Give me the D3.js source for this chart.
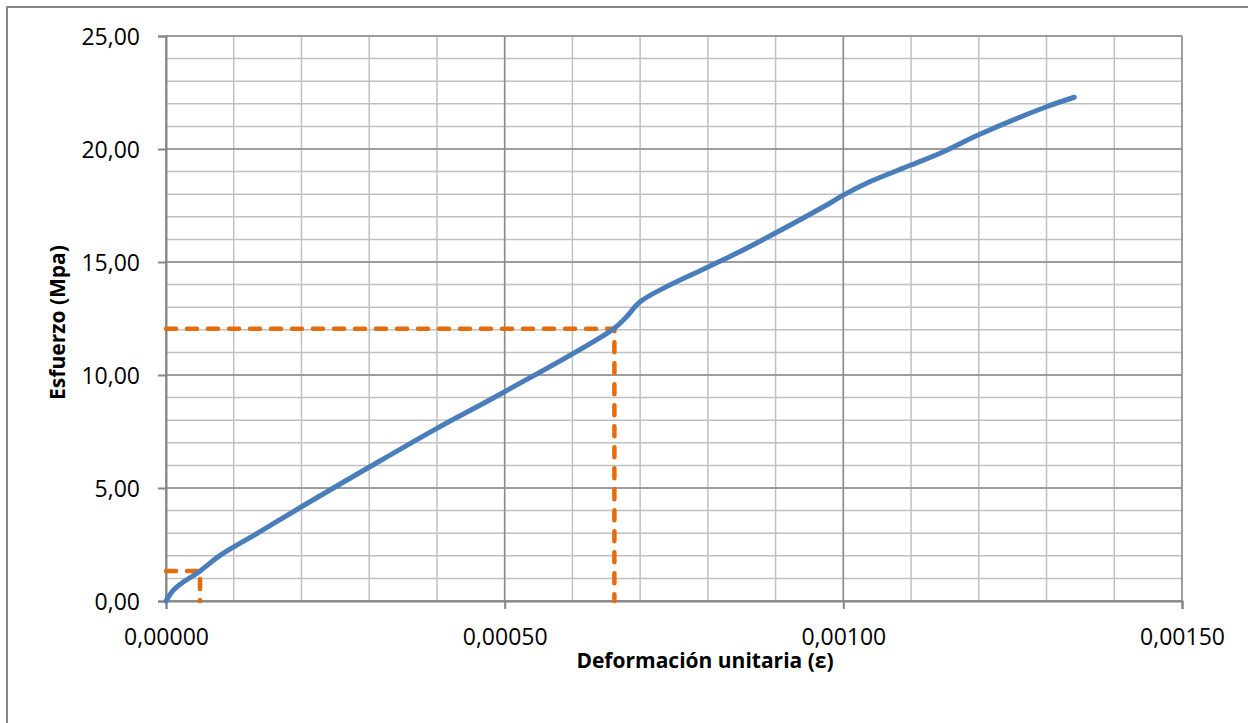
<!DOCTYPE html>
<html>
<head>
<meta charset="utf-8">
<script src="https://cdn.jsdelivr.net/npm/d3@7"></script>
<style>
  body { margin: 0; background: #fff; }
  svg { display: block; font-family: "Open Sans", sans-serif; }
</style>
</head>
<body>
<div id="chart"></div>
<script>
// strain / stress
const strain = [0, 0.00001, 0.00002, 0.00005, 0.00008, 0.000139, 0.0002, 0.000301, 0.0004, 0.0005,
                0.000661, 0.00068, 0.0007, 0.000739, 0.000801, 0.000852, 0.000899, 0.00098, 0.001, 0.001039,
                0.0011, 0.001148, 0.001199, 0.0013, 0.001341];
const stress = [0, 0.45, 0.72, 1.32, 2.02, 3.07, 4.17, 5.94, 7.64, 9.26,
                12.05, 12.58, 13.24, 13.91, 14.79, 15.53, 16.27, 17.60, 17.96, 18.55,
                19.29, 19.88, 20.62, 21.87, 22.29];

// dashed guide lines (two points on the curve)
const guideStrain = [0.0000502, 0.000662];
const guideStress = [1.33, 12.05];

const xTicks = [0, 0.0005, 0.001, 0.0015];
const yTicks = [0, 5, 10, 15, 20, 25];
const xMinor = d3.range(0, 16).map(i => i * 0.0001);
const yMinor = d3.range(0, 26);

const width = 1248;
const height = 723;
const margin = ({top: 36, right: 66, bottom: 122, left: 166});

const locale = d3.formatLocale({decimal: ",", thousands: ".", grouping: [3], currency: ["", "€"]});

const svg = d3.create('svg')
    .attr('width', width)
    .attr('height', height);

// outer chart border (runs off the picture to the right and bottom)
svg.append('rect')
    .attr('x', 7).attr('y', 7)
    .attr('width', 1400).attr('height', 900)
    .attr('fill', 'none')
    .attr('stroke', '#868686')
    .attr('stroke-width', 2);

const xScale = d3.scaleLinear()
    .domain([0, 0.0015])
    .range([margin.left, width - margin.right]);

const yScale = d3.scaleLinear()
    .domain([0, 25])
    .range([height - margin.bottom, margin.top]);

// minor grid
svg.append('g')
    .selectAll('line')
    .data(xMinor)
    .join('line')
    .attr('x1', d => xScale(d)).attr('x2', d => xScale(d))
    .attr('y1', yScale(0)).attr('y2', yScale(25))
    .attr('stroke', '#c0c0c0').attr('stroke-width', 1.5);

svg.append('g')
    .selectAll('line')
    .data(yMinor)
    .join('line')
    .attr('x1', xScale(0)).attr('x2', xScale(0.0015))
    .attr('y1', d => yScale(d)).attr('y2', d => yScale(d))
    .attr('stroke', '#c0c0c0').attr('stroke-width', 1.5);

// major grid
svg.append('g')
    .selectAll('line')
    .data(xTicks)
    .join('line')
    .attr('x1', d => xScale(d)).attr('x2', d => xScale(d))
    .attr('y1', yScale(0)).attr('y2', yScale(25))
    .attr('stroke', '#8c8c8c').attr('stroke-width', 1.5);

svg.append('g')
    .selectAll('line')
    .data(yTicks)
    .join('line')
    .attr('x1', xScale(0)).attr('x2', xScale(0.0015))
    .attr('y1', d => yScale(d)).attr('y2', d => yScale(d))
    .attr('stroke', '#8c8c8c').attr('stroke-width', 1.5);

// axes
const xAxis = svg.append('g')
    .attr('transform', `translate(0, ${yScale(0)})`)
    .call(d3.axisBottom(xScale).tickValues(xTicks).tickSize(8).tickFormat(locale.format(".5f")));

const yAxis = svg.append('g')
    .attr('transform', `translate(${xScale(0)}, 0)`)
    .call(d3.axisLeft(yScale).tickValues(yTicks).tickSize(8).tickFormat(locale.format(".2f")));

[xAxis, yAxis].forEach(a => {
    a.select('.domain').attr('stroke', '#868686').attr('stroke-width', 2);
    a.selectAll('.tick line').attr('stroke', '#868686').attr('stroke-width', 2);
    a.selectAll('text')
        .attr('fill', '#000')
        .attr('font-family', '"Open Sans", sans-serif')
        .attr('font-size', 23);
});
xAxis.selectAll('text').attr('y', 44).attr('dy', 0);
yAxis.selectAll('text').attr('x', -26).attr('dy', '0.35em');

// axis titles
svg.append('text')
    .attr('x', 705)
    .attr('y', 668)
    .attr('text-anchor', 'middle')
    .attr('font-size', 21)
    .attr('font-weight', 'bold')
    .text('Deformación unitaria (ε)');

svg.append('text')
    .attr('transform', `translate(65, ${(yScale(0) + yScale(25)) / 2 + 4}) rotate(-90)`)
    .attr('text-anchor', 'middle')
    .attr('font-size', 21)
    .attr('font-weight', 'bold')
    .text('Esfuerzo (Mpa)');

// dashed guides
const guideG = svg.append('g');
guideStrain.forEach((sx, i) => {
    const sy = guideStress[i];
    guideG.append('path')
        .attr('d', d3.line()([[xScale(0), yScale(sy)], [xScale(sx), yScale(sy)], [xScale(sx), yScale(0)]]))
        .attr('fill', 'none')
        .attr('stroke', '#e46c0a')
        .attr('stroke-width', 4.5)
        .attr('stroke-linecap', 'round')
        .attr('stroke-dasharray', '10,11');
});

// curve
const pts = strain.map((s, i) => [s, stress[i]]);
svg.append('path')
    .datum(pts)
    .attr('d', d3.line()
        .x(d => xScale(d[0]))
        .y(d => yScale(d[1]))
        .curve(d3.curveCatmullRom.alpha(0.5)))
    .attr('fill', 'none')
    .attr('stroke', '#4a7ebb')
    .attr('stroke-width', 5)
    .attr('stroke-linecap', 'round')
    .attr('stroke-linejoin', 'round');

document.getElementById("chart").appendChild(svg.node());
</script>
</body>
</html>
